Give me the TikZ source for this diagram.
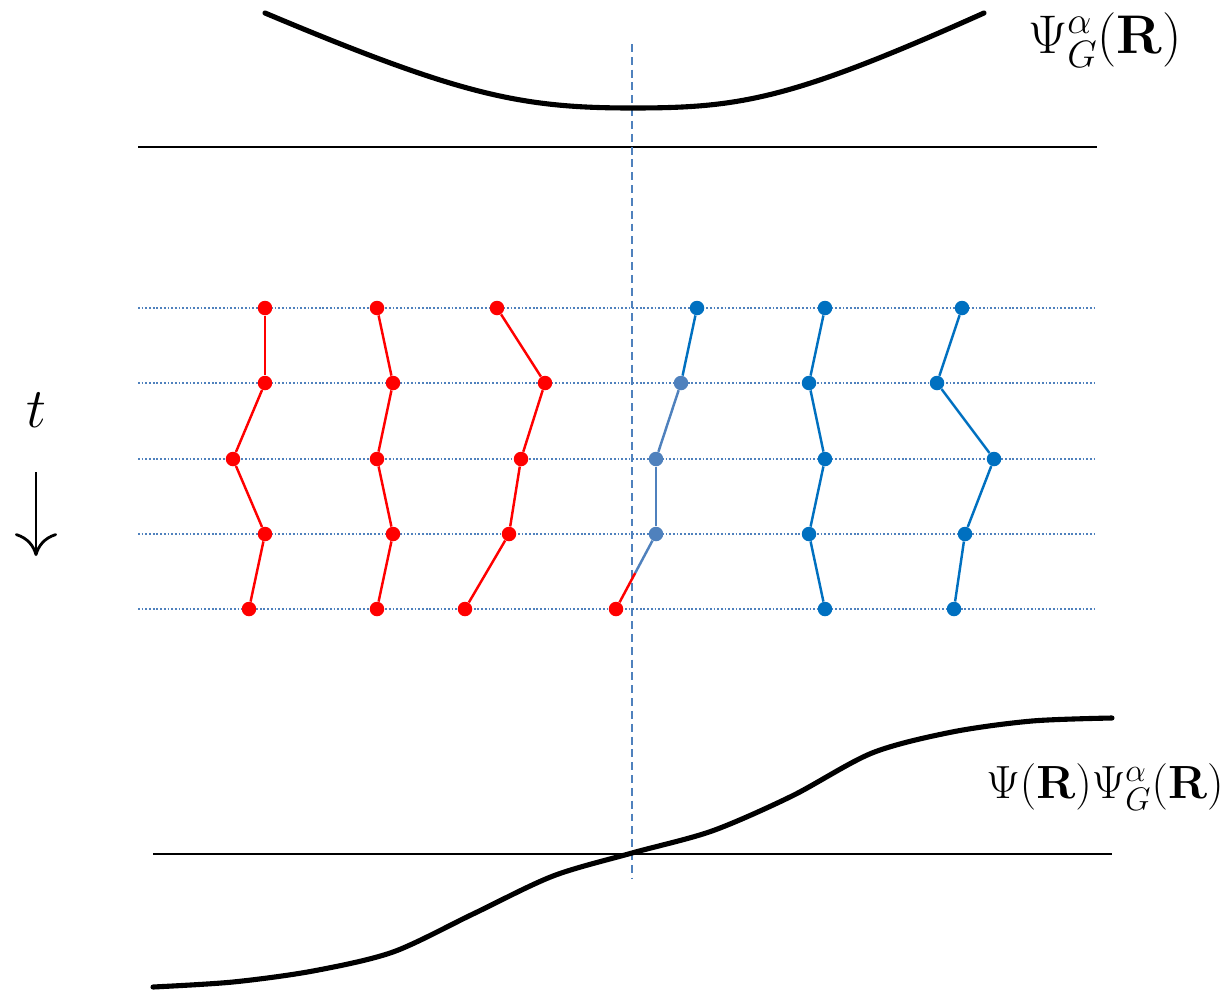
\RequirePackage{fix-cm}
\documentclass[tikz,border=0pt]{standalone}
\usepackage{tikz}
\usetikzlibrary{arrows.meta, calc}
\definecolor{wred}{HTML}{FF0000}
\definecolor{wblue}{HTML}{0070C0}
\definecolor{steel}{HTML}{4F81BD}

\begin{document}
\begin{tikzpicture}[
  x=0.02cm, y=-0.02cm,
  font=\fontsize{26.5}{30}\selectfont,
  bead/.style={circle, fill=#1, inner sep=0pt, minimum size=0.29cm},
  link/.style={line width=1.4pt, color=#1},
  slice/.style={line width=1pt, color=steel, dash pattern=on 1pt off 1.1pt},
  wave/.style={line width=2.9pt, line cap=round},
  axisline/.style={line width=0.6pt},
  timearrow/.style={line width=1.6pt, -{To[length=13pt, width=24pt]}},
]
\useasboundingbox (0,0) rectangle (1228,991);

% time slices
\foreach \y in {308,383,459,534,609}
  \draw[slice] (138,\y) -- (1097,\y);
\draw[axisline] (138,147) -- (1097,147);
\draw[axisline] (153,854) -- (1112,854);

% node plane
\coordinate (ntop) at (632,44);
\coordinate (nbot) at (632,878);
\draw[steel, line width=1pt, dash pattern=on 4.5pt off 2.8pt] (ntop) -- (nbot);

% wave functions
\draw[wave] (265,13) .. controls (460,95) and (520,108) .. (632,108)
  .. controls (740,108) and (790,100) .. (984,13);
\draw[wave] plot[smooth] coordinates {(153,987) (233,982) (313,971) (393,952) (473,914)
  (553,876) (632,853) (712,831) (792,796) (872,753) (952,732) (1032,721) (1112,718)};
\node[font=\fontsize{31}{35}\selectfont] (psig) at (1105,40) {$\Psi^\alpha_G(\mathbf{R})$};
\node (psipsig) at (1105,787) {$\Psi(\mathbf{R})\Psi^\alpha_G(\mathbf{R})$};

% walkers
\foreach \ch/\col/\xa/\xb/\xc/\xd/\xe in {a/wred/265/265/233/265/249,
    b/wred/377/393/377/393/377, c/wred/497/545/521/509/465,
    e/wblue/825/809/825/809/825, f/wblue/962/937/994/965/954} {
  \foreach \x/\y [count=\i] in {\xa/308,\xb/383,\xc/459,\xd/534,\xe/609}
    \node[bead=\col] (\ch\i) at (\x,\y) {};
  \foreach \i [evaluate=\i as \j using int(\i+1)] in {1,...,4}
    \draw[link=\col] (\ch\i) -- (\ch\j);
}

% walker crossing the node
\node[bead=wblue] (d1) at (697,308) {};
\node[bead=steel] (d2) at (681,383) {};
\node[bead=steel] (d3) at (656,459) {};
\node[bead=steel] (d4) at (656,534) {};
\node[bead=wred] (d5) at (616,609) {};
\coordinate (cut) at ($(d4)!0.52!(d5)$);
\draw[link=wblue] (d1) -- (d2);
\draw[link=steel] (d2) -- (d3);
\draw[link=steel] (d3) -- (d4);
\draw[link=steel] (d4) -- (cut);
\draw[link=wred] (cut) -- (d5);

% imaginary time
\node[font=\fontsize{32}{36}\selectfont] (t) at (36,410) {$t$};
\coordinate (tstart) at (36,472);
\coordinate (tend) at (36,556);
\draw[timearrow] (tstart) -- (tend);
\end{tikzpicture}
\end{document}
